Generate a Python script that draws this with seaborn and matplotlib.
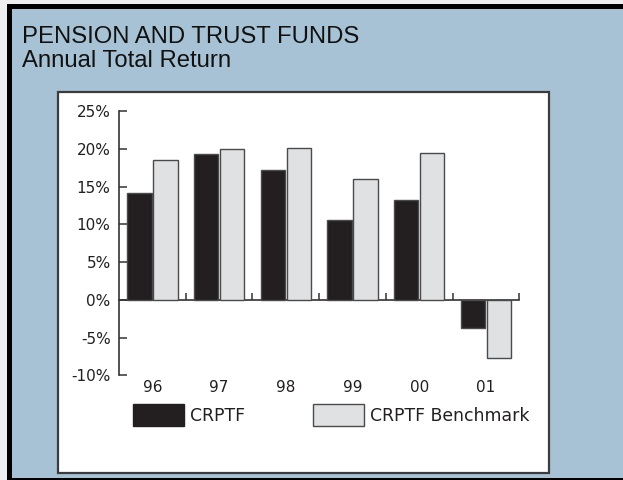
import matplotlib
matplotlib.use("Agg")
import matplotlib.pyplot as plt
import seaborn as sns
import pandas as pd
from matplotlib.patches import Rectangle, Patch

# ---- data ----
years = ["96", "97", "98", "99", "00", "01"]
crptf = [14.1, 19.3, 17.2, 10.6, 13.2, -3.7]
benchmark = [18.5, 20.0, 20.1, 16.0, 19.5, -7.7]
series_names = ["CRPTF", "CRPTF Benchmark"]
series_colors = ["#231F20", "#E0E1E3"]
ytick_values = [-10, -5, 0, 5, 10, 15, 20, 25]
ytick_labels = ["-10%", "-5%", "0%", "5%", "10%", "15%", "20%", "25%"]
title_lines = ["PENSION AND TRUST FUNDS", "Annual Total Return"]

df = pd.DataFrame({
    "Year": years * 2,
    "Return": crptf + benchmark,
    "Series": [series_names[0]] * len(years) + [series_names[1]] * len(years),
})

plt.rcParams["font.family"] = ["DejaVu Sans"]

W, H = 623, 480
fig = plt.figure(figsize=(W / 100, H / 100), dpi=100)
fig.patch.set_facecolor("#eeeeee")


def px_rect(x0, y0, x1, y1, **kw):
    return Rectangle((x0 / W, 1 - y1 / H), (x1 - x0) / W, (y1 - y0) / H,
                     transform=fig.transFigure, **kw)


fig.add_artist(px_rect(7, 4, 650, 500, fc="black", ec="none", zorder=-30))
fig.add_artist(px_rect(12, 9, 650, 477.5, fc="#A8C2D5", ec="none", zorder=-20))
fig.add_artist(px_rect(58, 91.5, 549, 473, fc="white", ec="#3c3c3c", lw=1.6, zorder=-10))

fig.text(22 / W, 1 - 43 / H, title_lines[0], va="baseline", ha="left",
         fontsize=17.2, family="Liberation Sans", color="#111111")
fig.text(22 / W, 1 - 67 / H, title_lines[1], va="baseline", ha="left",
         fontsize=17.2, family="Liberation Sans", color="#111111")

ax = fig.add_axes([119 / W, 1 - 375.3 / H, 400.3 / W, (375.3 - 111) / H])
ax.set_facecolor("none")

sns.barplot(data=df, x="Year", y="Return", hue="Series", hue_order=series_names,
            palette=series_colors, saturation=1, width=0.78, gap=0.06,
            edgecolor="#4a4a4a", linewidth=1.0, legend=False, ax=ax)

ax.set_xlim(-0.5, len(years) - 0.5)
ax.set_ylim(ytick_values[0], ytick_values[-1])
for s in ["top", "right", "bottom"]:
    ax.spines[s].set_visible(False)
ax.spines["left"].set_color("#333333")
ax.spines["left"].set_linewidth(1.2)

ax.set_yticks(ytick_values, ytick_labels)
ax.tick_params(axis="y", direction="in", length=6, width=1.1, color="#333333",
               pad=6, labelsize=11, labelcolor="#231F20")
ax.tick_params(axis="x", length=0, pad=3.5, labelsize=11, labelcolor="#231F20")
ax.set_xlabel("")
ax.set_ylabel("")

# zero line with group separator ticks
sec = ax.secondary_xaxis(0, transform=ax.transData)
sec.spines["bottom"].set_color("#333333")
sec.spines["bottom"].set_linewidth(1.2)
sec.set_xticks([i + 0.5 for i in range(len(years))])
sec.tick_params(direction="in", length=5, width=1.1, color="#333333", labelbottom=False)

fs = 12.4
fs_px = fs * 100 / 72
handles = [Patch(fc=series_colors[0], ec=series_colors[0]),
           Patch(fc=series_colors[1], ec="#4a4a4a")]
fig.legend(handles, series_names, loc="center left",
           bbox_to_anchor=(133 / W, 1 - 415 / H), ncol=2, frameon=False,
           borderpad=0, borderaxespad=0,
           handlelength=51 / fs_px, handleheight=27 / fs_px,
           handletextpad=6 / fs_px, columnspacing=68 / fs_px,
           prop={"family": "DejaVu Sans", "size": fs}, labelcolor="#231F20")

fig.savefig("out.png", dpi=100, facecolor=fig.get_facecolor())
